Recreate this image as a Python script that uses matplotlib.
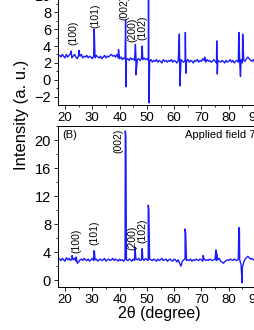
import numpy as np
import matplotlib
matplotlib.use('Agg')
import matplotlib.pyplot as plt
from matplotlib.ticker import MultipleLocator

plt.rcParams['font.family'] = ['Liberation Sans', 'DejaVu Sans']

# 2theta grid of the baseline readings
two_theta = np.arange(18.0, 90.01, 0.5)

# panel A (top) baseline, read every 0.5 deg
base_a = [2.9, 2.7, 3.0, 2.8, 2.6, 3.0, 2.7, 2.9, 3.1, 2.6,
          2.8, 3.0, 2.7, 2.5, 2.9, 2.8, 3.0, 2.6, 2.8, 2.7,
          2.9, 2.6, 2.8, 2.7, 2.5, 2.8, 2.6, 2.9, 2.7, 2.6,
          2.8, 2.5, 2.7, 2.9, 2.6, 2.8, 2.7, 2.9, 3.0, 2.8,
          2.9, 2.7, 3.0, 2.6, 2.5, 2.7, 2.4, 2.6, 2.5, 2.4,
          2.5, 2.3, 2.6, 2.4, 2.5, 2.3, 2.6, 2.4, 2.5, 2.3,
          2.5, 2.4, 2.6, 2.4, 2.5, 2.3, 2.2, 2.4, 2.1, 2.3,
          2.2, 2.4, 2.1, 2.3, 2.2, 2.0, 2.4, 2.2, 2.3, 2.1,
          2.3, 2.2, 2.4, 2.1, 2.3, 2.2, 2.0, 2.3, 2.2, 2.4,
          2.2, 2.1, 2.3, 2.2, 2.4, 2.1, 2.3, 2.2, 2.0, 2.3,
          2.2, 2.4, 2.1, 2.3, 2.2, 2.5, 2.3, 2.1, 2.4, 2.2,
          2.3, 2.1, 2.2, 2.4, 2.2, 2.0, 2.3, 2.2, 2.1, 2.3,
          2.2, 2.0, 2.3, 2.1, 2.2, 2.4, 2.1, 2.3, 2.0, 2.2,
          2.3, 2.1, 2.2, 2.4, 2.0, 2.3, 2.2, 2.5, 2.7, 2.5,
          2.3, 2.2, 2.4, 2.1, 2.3]
# sharp features of panel A: (2theta, intensity)
peaks_a = [(22.3, 3.4), (25.1, 3.5), (30.7, 6.0), (39.6, 3.6),
           (42.2, 7.0), (42.4, -0.8), (45.8, 4.2), (46.0, 0.6),
           (48.3, 4.0), (50.6, 11.0), (50.8, -2.7),
           (61.9, 5.4), (62.1, -0.7), (64.1, 5.6), (64.3, 0.8),
           (71.2, 2.7), (75.6, 4.6), (75.8, 0.7),
           (83.7, 5.6), (84.3, 0.4), (85.1, 5.4)]

# panel B (bottom) baseline
base_b = [3.0, 2.8, 3.1, 2.9, 2.7, 3.2, 2.9, 3.1, 2.8, 3.0,
          2.9, 3.1, 2.7, 2.4, 2.6, 2.9, 3.0, 2.8, 3.1, 2.9,
          2.8, 3.0, 2.7, 2.9, 3.1, 2.8, 2.9, 3.0, 2.7, 2.9,
          3.0, 2.8, 2.9, 3.1, 2.7, 2.9, 3.0, 2.8, 2.9, 3.1,
          2.8, 3.0, 2.9, 2.7, 3.0, 2.8, 2.9, 2.7, 3.0, 2.9,
          2.8, 3.0, 2.9, 2.7, 3.0, 2.8, 3.0, 2.9, 3.1, 2.8,
          2.9, 3.0, 2.8, 3.1, 2.9, 2.8, 3.0, 2.9, 2.8, 3.0,
          2.9, 2.7, 3.0, 2.8, 2.9, 3.1, 2.8, 2.9, 3.0, 2.7,
          2.9, 3.0, 2.8, 2.7, 3.0, 2.9, 2.6, 2.9, 2.4, 2.0,
          2.7, 2.9, 3.0, 2.8, 2.9, 2.8, 3.0, 2.7, 2.9, 2.8,
          3.0, 2.9, 2.8, 3.0, 2.9, 2.7, 3.0, 2.8, 2.9, 2.8,
          3.0, 2.9, 2.8, 2.9, 3.0, 2.8, 2.9, 3.1, 2.7, 2.6,
          2.4, 2.6, 2.8, 2.9, 2.8, 3.0, 2.9, 2.8, 3.0, 2.9,
          2.8, 3.0, 2.9, 2.2, 1.8, 2.6, 3.0, 3.2, 3.4, 3.2,
          3.0, 3.1, 2.9, 3.0, 2.9]
peaks_b = [(22.6, 3.5), (24.1, 3.3), (30.6, 4.2), (30.8, 4.0),
           (42.1, 21.3), (42.3, 20.5), (45.6, 4.7), (48.3, 4.5),
           (50.5, 10.7), (50.7, 10.2), (64.0, 7.3), (64.2, 6.8),
           (70.6, 3.5), (75.3, 4.3), (75.5, 3.9),
           (83.7, 7.5), (83.9, 7.2), (84.9, -0.4)]

labels_a = [('(100)', 23.0, 4.1), ('(101)', 31.0, 6.1), ('(002)', 41.6, 7.1),
            ('(200)', 44.7, 4.5), ('(102)', 48.3, 4.7)]
labels_b = [('(100)', 24.0, 3.9), ('(101)', 30.9, 5.0), ('(002)', 39.5, 18.1),
            ('(200)', 44.7, 4.3), ('(102)', 48.3, 5.3)]


def merge(base, peaks):
    pts = list(zip(two_theta, base)) + peaks
    pts.sort(key=lambda p: p[0])
    return [p[0] for p in pts], [p[1] for p in pts]


fig = plt.figure(figsize=(2.55, 3.30), dpi=100)
ax1 = fig.add_axes([0.2275, 0.682, 0.798, 0.333])
ax2 = fig.add_axes([0.2275, 0.130, 0.798, 0.488])

for ax, base, peaks, labs in [(ax1, base_a, peaks_a, labels_a),
                              (ax2, base_b, peaks_b, labels_b)]:
    x, y = merge(base, peaks)
    ax.plot(x, y, color='#1a1aff', lw=1.0)
    for t, xx, yy in labs:
        ax.text(xx, yy, t, rotation=90, ha='center', va='bottom', fontsize=7.5)
    ax.set_xlim(17.44, 92)
    ax.xaxis.set_major_locator(MultipleLocator(10))
    ax.xaxis.set_minor_locator(MultipleLocator(5))
    ax.tick_params(which='major', direction='out', length=3, width=0.6, pad=2)
    ax.tick_params(which='minor', direction='out', length=1.5, width=0.6)
    ax.tick_params(axis='x', labelsize=9.5)
    ax.tick_params(axis='y', labelsize=10.5)
    for s in ax.spines.values():
        s.set_linewidth(0.7)

ax1.set_ylim(-2.94, 10)
ax1.yaxis.set_major_locator(MultipleLocator(2))
ax1.yaxis.set_minor_locator(MultipleLocator(1))

ax2.set_ylim(-1, 22)
ax2.yaxis.set_major_locator(MultipleLocator(4))
ax2.yaxis.set_minor_locator(MultipleLocator(2))
ax2.text(21.8, 20.7, '(B)', ha='center', va='center', fontsize=8)
ax2.text(64.0, 20.7, 'Applied field 7 kOe', ha='left', va='center', fontsize=8)
ax2.set_xlabel('2\u03b8 (degree)', fontsize=11.5, labelpad=0)

fig.text(0.086, 0.652, 'Intensity (a. u.)', rotation=90, ha='center', va='center', fontsize=12)

fig.savefig('out.png', dpi=100)
